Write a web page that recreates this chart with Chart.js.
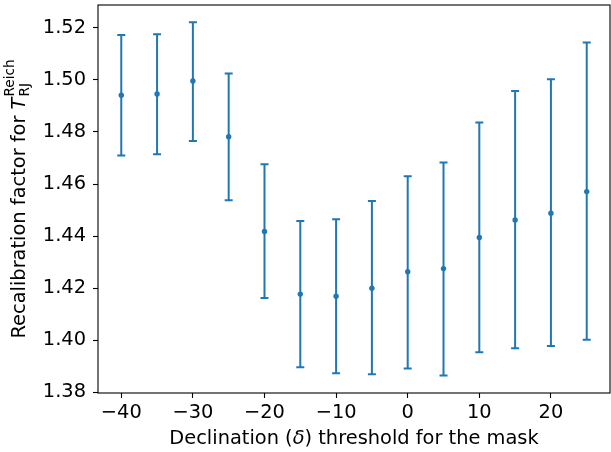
<!DOCTYPE html>
<html>
<head>
<meta charset="utf-8">
<script src="https://cdn.jsdelivr.net/npm/chart.js@4"></script>
<style>
  html, body { margin: 0; padding: 0; background: #fff; }
</style>
</head>
<body>
<canvas id="chart" width="611" height="452"></canvas>
<script>
// declination thresholds and recalibration factors
const declinations = [-40, -35, -30, -25, -20, -15, -10, -5, 0, 5, 10, 15, 20, 25];
const factors = [1.4941, 1.4946, 1.4996, 1.4782, 1.4418, 1.4177, 1.4169, 1.4200, 1.4263, 1.4275, 1.4395, 1.4462, 1.4488, 1.4571];
const upperBounds = [1.5173, 1.5176, 1.5222, 1.5025, 1.4676, 1.4458, 1.4465, 1.4535, 1.4630, 1.4683, 1.4836, 1.4958, 1.5003, 1.5144];
const lowerBounds = [1.4710, 1.4714, 1.4765, 1.4538, 1.4162, 1.3896, 1.3873, 1.3869, 1.3891, 1.3864, 1.3954, 1.3969, 1.3978, 1.4002];

const xTicks = [-40, -30, -20, -10, 0, 10, 20];
const yTicks = [1.38, 1.40, 1.42, 1.44, 1.46, 1.48, 1.50, 1.52];

const BLUE = '#1f77b4';
const FONT = 'DejaVu Sans';
const FS = 19.4;

// error bars with caps, drawn through the chart scales
const errorBars = {
    id: 'errorBars',
    beforeDatasetsDraw(chart) {
        const ctx = chart.ctx;
        const xs = chart.scales.x, ys = chart.scales.y;
        ctx.save();
        ctx.strokeStyle = BLUE;
        ctx.lineWidth = 2;
        declinations.forEach((d, i) => {
            const px = xs.getPixelForValue(d);
            const top = ys.getPixelForValue(upperBounds[i]);
            const bot = ys.getPixelForValue(lowerBounds[i]);
            ctx.beginPath();
            ctx.moveTo(px, top);
            ctx.lineTo(px, bot);
            ctx.moveTo(px - 4, top);
            ctx.lineTo(px + 4, top);
            ctx.moveTo(px - 4, bot);
            ctx.lineTo(px + 4, bot);
            ctx.stroke();
        });
        ctx.restore();
    }
};

// axes box and axis labels with math parts
const frameAndLabels = {
    id: 'frameAndLabels',
    afterDraw(chart) {
        const ctx = chart.ctx;
        const a = chart.chartArea;
        ctx.save();
        ctx.strokeStyle = '#000';
        ctx.lineWidth = 1.1;
        ctx.strokeRect(a.left, a.top, a.right - a.left, a.bottom - a.top);

        ctx.fillStyle = '#000';
        ctx.textBaseline = 'alphabetic';
        ctx.textAlign = 'left';

        // x label
        const reg = FS + 'px "' + FONT + '"';
        const ita = 'italic ' + FS + 'px "' + FONT + '"';
        const xParts = [['Declination (', reg], ['\u03b4', ita], [') threshold for the mask', reg]];
        let total = 0;
        xParts.forEach(p => { ctx.font = p[1]; total += ctx.measureText(p[0]).width; });
        let x = (a.left + a.right) / 2 - total / 2;
        xParts.forEach(p => {
            ctx.font = p[1];
            ctx.fillText(p[0], x, 444);
            x += ctx.measureText(p[0]).width;
        });

        // y label
        const small = (FS * 0.7).toFixed(1) + 'px "' + FONT + '"';
        const main = 'Recalibration factor for ';
        ctx.font = reg;
        const wMain = ctx.measureText(main).width;
        ctx.font = ita;
        const wT = ctx.measureText('T').width;
        ctx.font = small;
        const wSub = ctx.measureText('RJ').width;
        const wSup = ctx.measureText('Reich').width;
        const wAll = wMain + wT + Math.max(wSub, wSup) + 1;
        ctx.translate(25, (a.top + a.bottom) / 2);
        ctx.rotate(-Math.PI / 2);
        let y = -wAll / 2;
        ctx.font = reg;
        ctx.fillText(main, y, 0);
        y += wMain;
        ctx.font = ita;
        ctx.fillText('T', y, 0);
        y += wT + 1;
        ctx.font = small;
        ctx.fillText('Reich', y, -11);
        ctx.fillText('RJ', y, 4);
        ctx.restore();
    }
};

const tickFont = { family: FONT, size: FS };

new Chart(document.getElementById('chart'), {
    type: 'scatter',
    data: {
        datasets: [{
            data: declinations.map((d, i) => ({ x: d, y: factors[i] })),
            backgroundColor: BLUE,
            borderColor: BLUE,
            pointRadius: 2.7,
            pointBorderWidth: 0,
            showLine: false
        }]
    },
    options: {
        responsive: false,
        animation: false,
        events: [],
        layout: { autoPadding: false, padding: { top: 5, right: 1, left: 0, bottom: 0 } },
        plugins: {
            legend: { display: false },
            tooltip: { enabled: false }
        },
        scales: {
            x: {
                type: 'linear',
                min: -43.25,
                max: 28.25,
                afterBuildTicks: s => { s.ticks = xTicks.map(v => ({ value: v })); },
                afterFit: s => {
                    s.height = 59;
                    s.paddingLeft = 0;
                    s.paddingRight = 0;
                },
                ticks: {
                    font: tickFont,
                    color: '#000',
                    padding: 3,
                    maxRotation: 0,
                    callback: v => String(v).replace('-', '\u2212')
                },
                grid: { drawOnChartArea: false, drawTicks: true, tickLength: 5, tickWidth: 1.1, tickColor: '#000' },
                border: { display: false }
            },
            y: {
                min: 1.3797,
                max: 1.5288,
                afterBuildTicks: s => { s.ticks = yTicks.map(v => ({ value: v })); },
                afterFit: s => {
                    s.width = 98;
                    s.paddingTop = 0;
                    s.paddingBottom = 0;
                },
                ticks: {
                    font: tickFont,
                    color: '#000',
                    padding: 7,
                    callback: v => v.toFixed(2)
                },
                grid: { drawOnChartArea: false, drawTicks: true, tickLength: 5, tickWidth: 1.1, tickColor: '#000' },
                border: { display: false }
            }
        }
    },
    plugins: [errorBars, frameAndLabels]
});
</script>
</body>
</html>
